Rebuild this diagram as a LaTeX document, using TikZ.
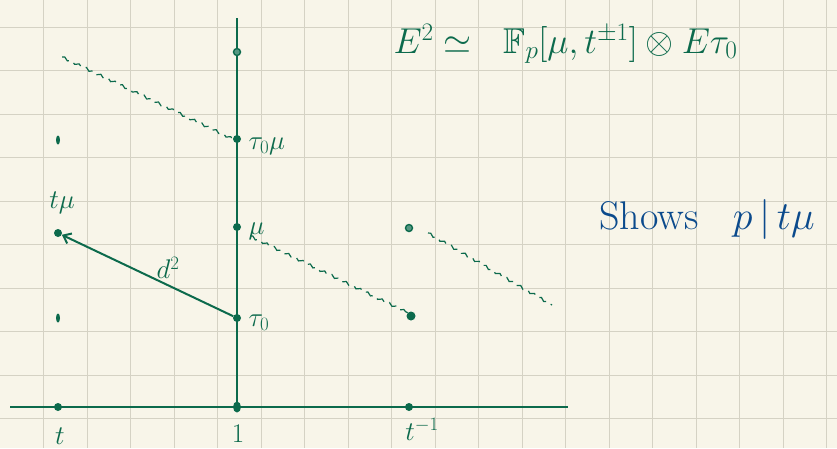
\RequirePackage{fix-cm}
\documentclass[tikz,border=0pt]{standalone}
\usepackage{amssymb}
\DeclareFontFamily{U}{msb}{}
\DeclareFontShape{U}{msb}{m}{n}{<-6> msbm5 <6-8> msbm7 <8-> msbm10}{}
\usetikzlibrary{arrows.meta,decorations.pathmorphing,shapes.geometric}
\definecolor{paper}{HTML}{F8F5E9}
\definecolor{gridc}{HTML}{D5D2C4}
\definecolor{ink}{HTML}{0C6A4C}
\definecolor{bink}{HTML}{0B4A8C}
\tikzset{
  dot/.style={circle,fill=ink,inner sep=0pt,minimum size=8pt},
  odot/.style={circle,draw=ink,fill=ink!70,line width=1.4pt,inner sep=0pt,minimum size=7pt},
  tick/.style={ellipse,fill=ink,inner sep=0pt,minimum width=4pt,minimum height=9pt},
  lab/.style={text=ink,font=\fontsize{27}{31}\selectfont},
  axis/.style={ink,line width=2.6pt},
  wav/.style={ink,line width=1.2pt,dash pattern=on 9pt off 6pt,decorate,decoration={snake,amplitude=1.2pt,segment length=8pt}},
}
\begin{document}
\begin{tikzpicture}[x=1pt,y=-1pt]
\fill[paper] (0,0) rectangle (837,448);
\useasboundingbox (0,0) rectangle (837,448);
\foreach \k in {1,...,19} \draw[gridc,line width=0.9pt] (43.5*\k,0) -- (43.5*\k,448);
\foreach \k in {0,...,9} \draw[gridc,line width=0.9pt] (0,27+43.5*\k) -- (837,27+43.5*\k);
% axes
\coordinate (hl) at (10,407);
\coordinate (hr) at (568,407);
\coordinate (vt) at (237,18);
\draw[axis] (hl) -- (hr);
% nodes on axes
\node[dot] (t) at (58,407) {};
\node[dot,ellipse,minimum width=8pt,minimum height=11pt] (one) at (237,407) {};
\node[dot] (tinv) at (409,407) {};
\draw[axis] (vt) -- (one.center);
\node[odot] (top) at (237,52) {};
\node[dot] (tau0mu) at (237,139) {};
\node[dot] (mu) at (237,227) {};
\node[dot] (tau0) at (237,318) {};
\node[tick] (l1) at (58,140) {};
\node[dot] (tmu) at (58,233) {};
\node[tick] (l3) at (58,318) {};
\node[odot] (r1) at (409,228) {};
\node[dot,minimum size=9pt] (r2) at (411,316) {};
% labels
\node[lab] (Lt) at (60,436) {$t$};
\node[lab] (L1) at (238,434) {$1$};
\node[lab] (Ltinv) at (422,429) {$t^{-1}$};
\node[lab,anchor=west] (Ltau0mu) at (245,146) {$\tau_0\mu$};
\node[lab,anchor=west] (Lmu) at (245,231) {$\mu$};
\node[lab,anchor=west] (Ltau0) at (245,323) {$\tau_0$};
\node[lab] (Ltmu) at (62,203) {$t\mu$};
% arrow d2
\draw[ink,line width=2pt,-{Straight Barb[length=7pt,width=11pt]}] (tau0) -- node[lab,pos=0.38,above=2pt] (Ld) {$d^2$} (tmu);
% wavy lines
\coordinate (w1) at (62,57);
\coordinate (w2) at (250,236);
\coordinate (w3) at (428,233);
\coordinate (w3e) at (552,305);
\draw[wav] (w1) -- (tau0mu.west);
\draw[wav] (w2) -- (r2.north west);
\draw[wav] (w3) -- (w3e);
% formula
\node[lab,anchor=west,font=\fontsize{36}{42}\selectfont] (F) at (390,44) {$E^2 \simeq\ \ \mathbb{F}_p[\mu,t^{\pm1}]\otimes E\tau_0$};
\node[anchor=west,text=bink,font=\fontsize{40}{46}\selectfont] (S) at (596,219) {Shows\hspace{34pt}$p\,|\,t\mu$};
\end{tikzpicture}
\end{document}
